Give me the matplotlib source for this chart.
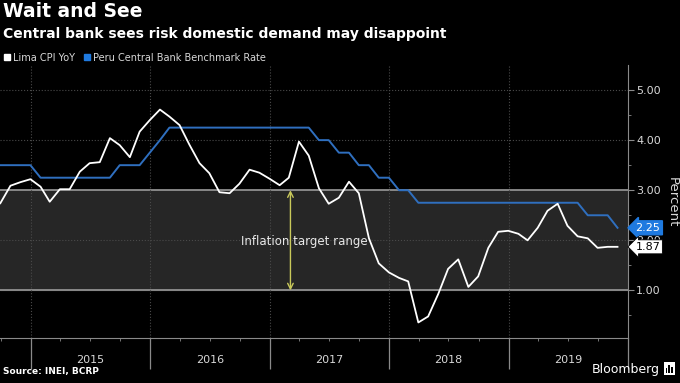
import numpy as np
import pandas as pd
import matplotlib.pyplot as plt
import matplotlib.dates as mdates
from matplotlib.lines import Line2D
from matplotlib.patches import Rectangle

# Monthly data, Sep 2014 - Nov 2019 (plotted at month end)
months = pd.date_range("2014-09-30", "2019-11-30", freq="ME")

lima_cpi = [
    2.74, 3.09, 3.16, 3.22,                                                  # 2014
    3.07, 2.77, 3.02, 3.02, 3.37, 3.54, 3.56, 4.04, 3.90, 3.66, 4.17, 4.40,  # 2015
    4.61, 4.47, 4.30, 3.91, 3.54, 3.34, 2.96, 2.94, 3.13, 3.41, 3.35, 3.23,  # 2016
    3.10, 3.25, 3.97, 3.69, 3.04, 2.73, 2.85, 3.17, 2.94, 2.04, 1.54, 1.36,  # 2017
    1.25, 1.18, 0.36, 0.48, 0.93, 1.43, 1.62, 1.07, 1.28, 1.85, 2.17, 2.19,  # 2018
    2.13, 2.00, 2.25, 2.59, 2.73, 2.29, 2.08, 2.04, 1.85, 1.87, 1.87,        # 2019
]

policy_rate = [
    3.50, 3.50, 3.50, 3.50,
    3.25, 3.25, 3.25, 3.25, 3.25, 3.25, 3.25, 3.25, 3.50, 3.50, 3.50, 3.75,
    4.00, 4.25, 4.25, 4.25, 4.25, 4.25, 4.25, 4.25, 4.25, 4.25, 4.25, 4.25,
    4.25, 4.25, 4.25, 4.25, 4.00, 4.00, 3.75, 3.75, 3.50, 3.50, 3.25, 3.25,
    3.00, 3.00, 2.75, 2.75, 2.75, 2.75, 2.75, 2.75, 2.75, 2.75, 2.75, 2.75,
    2.75, 2.75, 2.75, 2.75, 2.75, 2.75, 2.75, 2.50, 2.50, 2.50, 2.25,
]

years = [2015, 2016, 2017, 2018, 2019]
target_low, target_high = 1.0, 3.0

fig = plt.figure(figsize=(6.8, 3.83), dpi=100, facecolor="black")
ax = fig.add_axes([0.0, 0.1175, 0.9235, 0.7128], facecolor="black")

grid_c = "#4a4a4a"
axis_c = "#8a8a8a"
text_c = "#d8d8d8"

# target band
ax.axhspan(target_low, target_high, color="#262626", zorder=0)
ax.axhline(target_low, color="#9a9a9a", lw=1.2, zorder=1)
ax.axhline(target_high, color="#9a9a9a", lw=1.2, zorder=1)

ax.plot(months, policy_rate, color="#2f6fbf", lw=1.4, zorder=3)
ax.plot(months, lima_cpi, color="white", lw=1.3, zorder=4)

ax.set_xlim(pd.Timestamp("2014-09-29"), pd.Timestamp("2020-01-01"))
ax.set_ylim(0.05, 5.5)

# y axis on right
ax.yaxis.tick_right()
ax.set_yticks([1, 2, 3, 4, 5])
ax.set_yticklabels(["1.00", "2.00", "3.00", "4.00", "5.00"])
ax.set_yticks(np.arange(0.5, 5.5, 1.0), minor=True)
ax.tick_params(axis="y", which="major", colors=axis_c, labelcolor=text_c,
               labelsize=8, length=4, pad=2)
ax.tick_params(axis="y", which="minor", colors=axis_c, length=2)

# x axis: year separators, quarter ticks
ax.xaxis.set_major_locator(mdates.YearLocator())
ax.xaxis.set_minor_locator(mdates.MonthLocator(bymonth=[4, 7, 10]))
ax.tick_params(axis="x", which="major", colors=axis_c, length=22, width=0.9,
               labelbottom=False)
ax.tick_params(axis="x", which="minor", colors=axis_c, length=2.5)
for y in years:
    ax.text(pd.Timestamp(f"{y}-07-02"), -0.08, str(y),
            transform=ax.get_xaxis_transform(), ha="center", va="center",
            color=text_c, fontsize=8)

# grid
for y in [2, 4, 5]:
    ax.axhline(y, color=grid_c, lw=0.8, ls=":", zorder=1)
for y in years:
    ax.axvline(pd.Timestamp(f"{y}-01-01"), color=grid_c, lw=0.8, ls=":", zorder=1)

for side in ["top", "left"]:
    ax.spines[side].set_visible(False)
ax.spines["right"].set_color(axis_c)
ax.spines["bottom"].set_color(axis_c)

# inflation target annotation
arrow_x = pd.Timestamp("2017-03-05")
ax.annotate("", xy=(arrow_x, target_low), xytext=(arrow_x, target_high),
            arrowprops=dict(arrowstyle="<->", color="#c9c95a", lw=1.0,
                            shrinkA=0, shrinkB=0), zorder=5)
ax.text(pd.Timestamp("2016-10-04"), 1.98, "Inflation target range",
        color="#e8e8e8", fontsize=8.5, va="center", ha="left", zorder=6)

# last value tags
ax.text(1.012, policy_rate[-1], f"{policy_rate[-1]:.2f}",
        transform=ax.get_yaxis_transform(), color="white", fontsize=8,
        va="center", ha="left", zorder=10, clip_on=False,
        bbox=dict(boxstyle="larrow,pad=0.18", fc="#1f7ae0", ec="#1f7ae0"))
ax.text(1.012, lima_cpi[-1], f"{lima_cpi[-1]:.2f}",
        transform=ax.get_yaxis_transform(), color="black", fontsize=8,
        va="center", ha="left", zorder=10, clip_on=False,
        bbox=dict(boxstyle="larrow,pad=0.18", fc="white", ec="black", lw=0.6))

fig.text(0.988, 0.472, "Percent", rotation=270, ha="center", va="center",
         color=text_c, fontsize=9.5)

# titles
fig.text(0.004, 0.995, "Wait and See", color="white", fontsize=13.5,
         fontweight="bold", va="top", ha="left")
fig.text(0.004, 0.93, "Central bank sees risk domestic demand may disappoint",
         color="white", fontsize=10, fontweight="bold", va="top", ha="left")

handles = [
    Line2D([], [], marker="s", ls="", color="white", markersize=5),
    Line2D([], [], marker="s", ls="", color="#1f7ae0", markersize=5),
]
fig.legend(handles, ["Lima CPI YoY", "Peru Central Bank Benchmark Rate"],
           loc="center left", bbox_to_anchor=(-0.004, 0.849), ncol=2,
           frameon=False, fontsize=7, labelcolor=text_c, handlelength=0.6,
           handletextpad=0.3, columnspacing=1.0, borderpad=0.2)

# footer
fig.text(0.004, 0.018, "Source: INEI, BCRP", color="white", fontsize=6.5,
         fontweight="bold", va="bottom", ha="left")
fig.text(0.970, 0.018, "Bloomberg", color="white", fontsize=9,
         va="bottom", ha="right")
fig.patches.append(Rectangle((0.976, 0.022), 0.017, 0.033, transform=fig.transFigure,
                             fc="white", ec="none"))
for i, h in enumerate([0.012, 0.02, 0.016]):
    fig.patches.append(Rectangle((0.979 + i * 0.004, 0.027), 0.002, h,
                                 transform=fig.transFigure, fc="black", ec="none"))

fig.savefig("out.png", dpi=100, facecolor="black")
